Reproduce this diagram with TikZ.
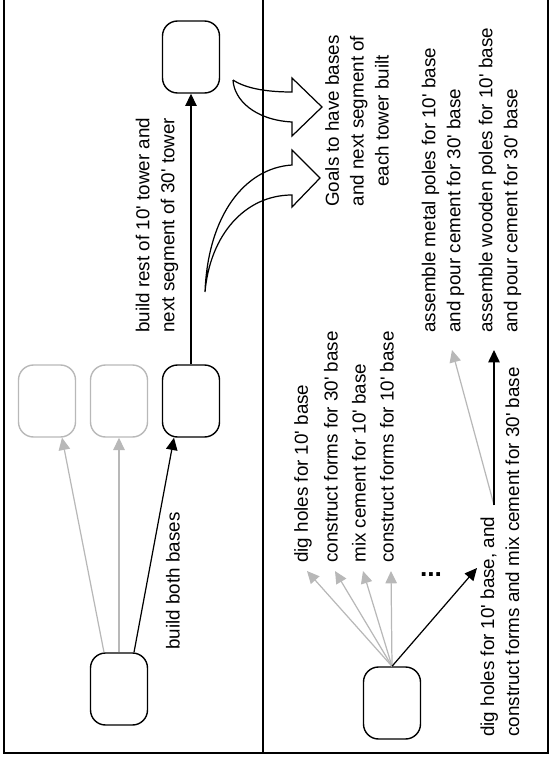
\documentclass[tikz,border=0pt]{standalone}
\usepackage{fontspec}
\setmainfont{Liberation Sans}
\usetikzlibrary{arrows.meta,calc}
\newcommand{\ap}{\textquotesingle}

\begin{document}
\begin{tikzpicture}[x=0.02cm,y=-0.02cm,
  font=\fontsize{10.7}{14.2}\selectfont,
  etat/.style={draw,line width=0.8pt,rounded corners=0.3cm,minimum width=1.14cm,minimum height=1.44cm,inner sep=0pt},
  etatgris/.style={etat,draw=black!28},
  fleche/.style={line width=0.7pt,-{Triangle[length=7pt,width=6.5pt]}},
  flechegris/.style={fleche,color=black!28},
  texte/.style={rotate=90,inner sep=0pt}]%{{{
\useasboundingbox (0,0) rectangle (550,761);
%
% Cadre
\draw [line width=0.8pt] (4,0) -- (4,753) -- (548,753) -- (548,0);
\draw [line width=0.8pt] (263,0) -- (263,753);
%
% Etats (gauche)
\node [etat]     (racine) at (119,689) {};
\node [etatgris] (base1)  at (47,401)  {};
\node [etatgris] (base2)  at (119,401) {};
\node [etat]     (base3)  at (191,401) {};
\node [etat]     (sommet) at (191,57)  {};
%
\draw [flechegris] ($(racine.north)+(-15,0)$) -- ($(base1.south)+(15,0)$);
\draw [flechegris] (racine.north) -- (base2.south);
\draw [fleche]     ($(racine.north)+(15,0)$) -- ($(base3.south)+(-17,0)$);
\draw [fleche]     (base3.north) -- (sommet.south);
%
\node [texte] (bases) at (173,581) {build both bases};
\node [texte,align=left,anchor=west] (reste) at (157,333)
      {build rest of 10\ap{} tower and\\next segment of 30\ap{} tower};
%
% Fleches creuses
\draw [line width=0.7pt] (233,80) .. controls (245,88) and (265,92) .. (292,92)
      -- (292,78) -- (322,107) -- (292,136) -- (292,122)
      .. controls (255,120) and (234,100) .. (233,80);
\draw [line width=0.7pt] (205,292) .. controls (208,215) and (245,168) .. (292,165)
      -- (292,150) -- (320,178) -- (292,207) -- (292,195)
      .. controls (245,195) and (210,235) .. (205,292);
%
\node [texte,align=center] (buts) at (357,121)
      {Goals to have bases\\and next segment of\\each tower built};
%
% Etats (droite)
\node [etat] (debut) at (392,703) {};
%
\node [texte,anchor=west] (trous)   at (303,563) {dig holes for 10\ap{} base};
\node [texte,anchor=west] (forme30) at (331,563) {construct forms for 30\ap{} base};
\node [texte,anchor=west] (ciment)  at (359,563) {mix cement for 10\ap{} base};
\node [texte,anchor=west] (forme10) at (387,563) {construct forms for 10\ap{} base};
\node [font=\fontsize{15}{15}\selectfont\bfseries,inner sep=0pt,anchor=base] (suite) at (431,576) {...};
%
\foreach \n in {trous,forme30,ciment,forme10}
  \draw [flechegris] (debut.north) -- ($(\n.west)+(4,8)$);
%
\node [texte,align=left,anchor=west] (combo) at (500,737)
      {dig holes for 10\ap{} base, and\\construct forms and mix cement for 30\ap{} base};
\coordinate (pointe) at (477,568);
\coordinate (depart) at (494,505);
\draw [fleche] (debut.north) -- (pointe);
%
\node [texte,align=left,anchor=west] (metal) at (443,333)
      {assemble metal poles for 10\ap{} base\\and pour cement for 30\ap{} base};
\node [texte,align=left,anchor=west] (bois) at (500,333)
      {assemble wooden poles for 10\ap{} base\\and pour cement for 30\ap{} base};
%
\draw [flechegris] (depart) -- ($(metal.west)+(9,17)$);
\draw [fleche]     (depart) -- ($(bois.west)+(-6,17)$);
%
\end{tikzpicture}
\end{document}
